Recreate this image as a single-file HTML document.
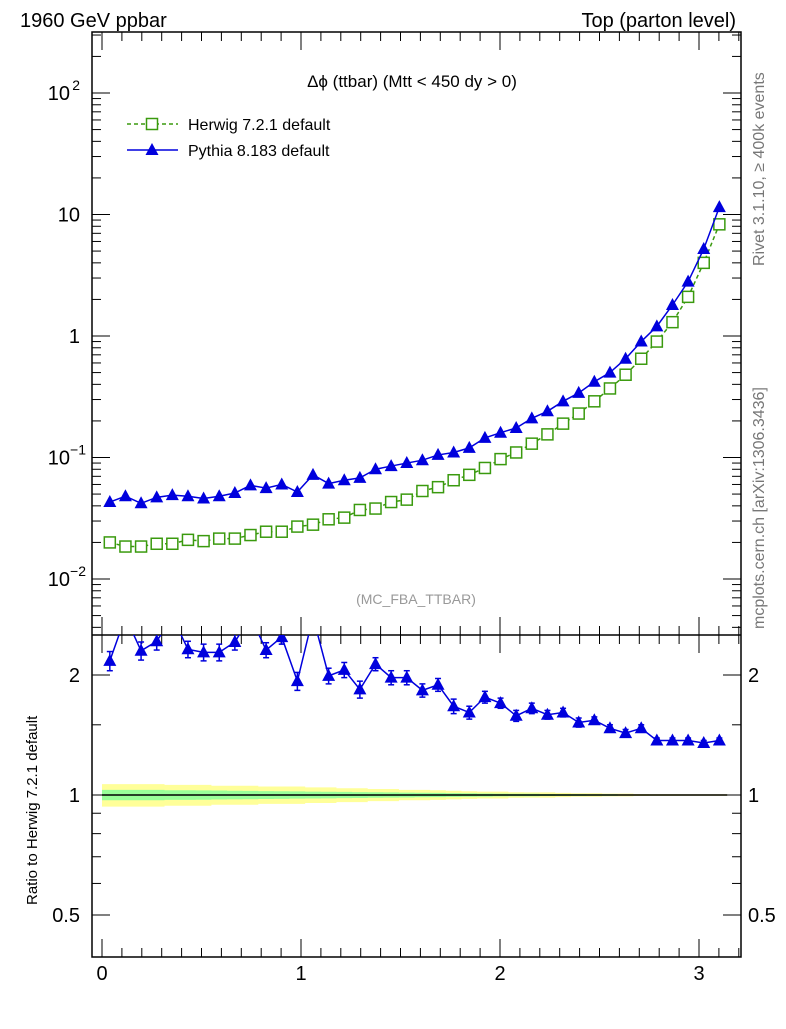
<!DOCTYPE html>
<html><head><meta charset="utf-8"><style>
body{margin:0;background:#fff}
svg text{font-family:"Liberation Sans",Arial,sans-serif}
</style></head><body>
<svg id="c" width="786" height="1024" viewBox="0 0 786 1024" xmlns="http://www.w3.org/2000/svg">
<defs>
<clipPath id="mainClip"><rect x="92" y="32" width="649" height="603"/></clipPath>
<clipPath id="ratioClip"><rect x="92" y="635" width="649" height="322"/></clipPath>
</defs>
<g id="bands" clip-path="url(#ratioClip)"></g>
<g id="frame"></g>
<g id="main" clip-path="url(#mainClip)"></g>
<g id="ratio" clip-path="url(#ratioClip)"></g>
<text x="20" y="27" font-size="20">1960 GeV ppbar</text>
<text x="736" y="27" font-size="20" text-anchor="end">Top (parton level)</text>
<text x="412" y="87" font-size="17" text-anchor="middle">Δϕ (ttbar) (Mtt &lt; 450 dy &gt; 0)</text>
<text x="416" y="604" font-size="14" fill="#999" text-anchor="middle">(MC_FBA_TTBAR)</text>
<text transform="translate(764,266) rotate(-90)" font-size="16" fill="#777">Rivet 3.1.10, ≥ 400k events</text>
<text transform="translate(764,629) rotate(-90)" font-size="16" fill="#777">mcplots.cern.ch [arXiv:1306.3436]</text>
<text transform="translate(37,905) rotate(-90)" font-size="15">Ratio to Herwig 7.2.1 default</text>
<g>
<line x1="127" y1="124" x2="178" y2="124" stroke="#3a9a0e" stroke-width="1.5" stroke-dasharray="4,3"/>
<rect x="146.5" y="118.5" width="11" height="11" fill="#fff" stroke="#3a9a0e" stroke-width="1.5"/>
<text x="188" y="130" font-size="16">Herwig 7.2.1 default</text>
<line x1="127" y1="150" x2="178" y2="150" stroke="#0000dd" stroke-width="1.5"/>
<polygon points="152,143 158.5,155 145.5,155" fill="#0000dd"/>
<text x="188" y="156" font-size="16">Pythia 8.183 default</text>
</g>
</svg>
<script>
const herwig=[0.020,0.0185,0.0185,0.0195,0.0195,0.021,0.0205,0.0215,0.0215,0.023,0.0245,0.0245,0.027,0.028,0.031,0.032,0.037,0.038,0.043,0.045,0.053,0.057,0.065,0.072,0.082,0.097,0.11,0.13,0.155,0.19,0.23,0.29,0.37,0.48,0.65,0.90,1.3,2.1,4.0,8.3];
const pythia=[0.043,0.048,0.042,0.047,0.049,0.048,0.046,0.048,0.051,0.059,0.056,0.060,0.052,0.072,0.061,0.065,0.068,0.080,0.085,0.090,0.095,0.105,0.11,0.12,0.145,0.16,0.175,0.21,0.24,0.29,0.34,0.42,0.50,0.65,0.90,1.2,1.8,2.8,5.2,11.5];
const ratio=[2.17,2.8,2.30,2.43,2.8,2.32,2.28,2.28,2.42,2.8,2.31,2.49,1.93,2.8,1.99,2.06,1.84,2.13,1.97,1.97,1.83,1.89,1.67,1.61,1.76,1.70,1.58,1.65,1.59,1.61,1.52,1.54,1.47,1.43,1.47,1.37,1.37,1.37,1.35,1.37];
const ratioErr=[0.12,0.12,0.12,0.12,0.12,0.11,0.11,0.11,0.11,0.11,0.10,0.10,0.10,0.10,0.09,0.09,0.09,0.08,0.08,0.08,0.07,0.07,0.07,0.06,0.06,0.05,0.05,0.05,0.04,0.04,0.04,0.03,0.03,0.03,0.03,0.02,0.02,0.02,0.02,0.02];
const yellowBand=[0.065,0.065,0.065,0.065,0.06,0.06,0.06,0.055,0.055,0.055,0.05,0.05,0.05,0.045,0.045,0.04,0.04,0.035,0.035,0.03,0.03,0.028,0.025,0.022,0.02,0.02,0.016,0.015,0.015,0.012,0.01,0.01,0.008,0.008,0.006,0.005,0.005,0.004,0.004,0.004];
const greenBand=[0.03,0.03,0.03,0.03,0.028,0.028,0.027,0.026,0.025,0.024,0.023,0.022,0.021,0.02,0.019,0.018,0.017,0.016,0.015,0.014,0.013,0.012,0.011,0.01,0.009,0.008,0.007,0.007,0.006,0.005,0.005,0.004,0.004,0.003,0.003,0.003,0.002,0.002,0.002,0.002];
const xTicks=[0,1,2,3];
const NS="http://www.w3.org/2000/svg";
const L=92,R=741,T=32,MB=635,RB=957;
const X=v=>102+v*199;
const Y=v=>336-121.5*Math.log10(v);
const YR=v=>795-120*Math.log2(v);
const bw=Math.PI/herwig.length;
const cx=i=>X((i+0.5)*bw);
function mk(p,tag,a){const e=document.createElementNS(NS,tag);for(const k in a)e.setAttribute(k,a[k]);p.appendChild(e);return e;}
const fr=document.getElementById('frame'),mg=document.getElementById('main'),rg=document.getElementById('ratio'),bg=document.getElementById('bands');
let up=[],dn=[],gu=[],gd=[];
herwig.forEach((h,i)=>{const x0=X(i*bw),x1=X((i+1)*bw);
up.push(x0+','+YR(1+yellowBand[i]),x1+','+YR(1+yellowBand[i]));dn.unshift(x1+','+YR(1-yellowBand[i]),x0+','+YR(1-yellowBand[i]));
gu.push(x0+','+YR(1+greenBand[i]),x1+','+YR(1+greenBand[i]));gd.unshift(x1+','+YR(1-greenBand[i]),x0+','+YR(1-greenBand[i]));});
let yb=mk(bg,'polygon',{points:up.concat(dn).join(' '),fill:'#ffff99'});


let gb=mk(bg,'polygon',{points:gu.concat(gd).join(' '),fill:'#99ff99'});


mk(bg,'line',{x1:X(0),x2:X(Math.PI),y1:YR(1),y2:YR(1),stroke:'#000','stroke-width':1.5});
mk(fr,'rect',{x:L,y:T,width:R-L,height:RB-T,fill:'none',stroke:'#000','stroke-width':1.5});
mk(fr,'line',{x1:L,x2:R,y1:MB,y2:MB,stroke:'#000','stroke-width':1.5});
for(let e=-3;e<=3;e++){for(let m=1;m<10;m++){const v=m*Math.pow(10,e);const y=Y(v);if(y<T||y>MB)continue;const len=m==1?18:9;
mk(fr,'line',{x1:L,x2:L+len,y1:y,y2:y,stroke:'#000'});mk(fr,'line',{x1:R,x2:R-len,y1:y,y2:y,stroke:'#000'});}}
const ylab=[[0.01,'10','−2'],[0.1,'10','−1'],[1,'1',''],[10,'10',''],[100,'10','2']];
ylab.forEach(([v,b,s])=>{const t=mk(fr,'text',{x:s?70:80,y:Y(v)+7,'font-size':20,'text-anchor':'end'});t.textContent=b;


if(s){const u=mk(fr,'text',{x:s.length>1?86:80,y:Y(v)-3,'font-size':14,'text-anchor':'end'});u.textContent=s;}});
[0.5,0.6,0.7,0.8,0.9,1,1.5,2].forEach(v=>{const y=YR(v);const len=(v==0.5||v==1||v==2)?18:9;
mk(fr,'line',{x1:L,x2:L+len,y1:y,y2:y,stroke:'#000'});mk(fr,'line',{x1:R,x2:R-len,y1:y,y2:y,stroke:'#000'});});
[[0.5,'0.5'],[1,'1'],[2,'2']].forEach(([v,s])=>{const a=mk(fr,'text',{x:80,y:YR(v)+7,'font-size':20,'text-anchor':'end'});a.textContent=s;


const b=mk(fr,'text',{x:748,y:YR(v)+7,'font-size':20});b.textContent=s;});
for(let k=0;k<=32;k++){const v=k*0.1;const x=X(v);if(x>R)break;const len=k%10==0?18:9;
[T,MB].forEach(y0=>{mk(fr,'line',{x1:x,x2:x,y1:y0,y2:y0+len,stroke:'#000'});});
[MB,RB].forEach(y0=>{mk(fr,'line',{x1:x,x2:x,y1:y0,y2:y0-len,stroke:'#000'});});}
xTicks.forEach(v=>{const t=mk(fr,'text',{x:X(v),y:980,'font-size':20,'text-anchor':'middle'});t.textContent=v;

});
mk(mg,'polyline',{points:herwig.map((v,i)=>cx(i)+','+Y(v)).join(' '),fill:'none',stroke:'#3a9a0e','stroke-width':1.5,'stroke-dasharray':'4,3'});
herwig.forEach((v,i)=>{const r=mk(mg,'rect',{x:cx(i)-5.5,y:Y(v)-5.5,width:11,height:11,fill:'#fff',stroke:'#3a9a0e','stroke-width':1.5});

});
function tri(g,x,y){return mk(g,'polygon',{points:`${x},${y-7} ${x+6.5},${y+5} ${x-6.5},${y+5}`,fill:'#0000dd'});}
mk(mg,'polyline',{points:pythia.map((v,i)=>cx(i)+','+Y(v)).join(' '),fill:'none',stroke:'#0000dd','stroke-width':1.5});
pythia.forEach((v,i)=>{const p=tri(mg,cx(i),Y(v));

});
mk(rg,'polyline',{points:ratio.map((v,i)=>cx(i)+','+YR(v)).join(' '),fill:'none',stroke:'#0000dd','stroke-width':1.5});
ratio.forEach((v,i)=>{const x=cx(i),y1=YR(v+ratioErr[i]),y2=YR(v-ratioErr[i]);
mk(rg,'line',{x1:x,x2:x,y1:y1,y2:y2,stroke:'#0000dd','stroke-width':1.5});
mk(rg,'line',{x1:x-3,x2:x+3,y1:y1,y2:y1,stroke:'#0000dd','stroke-width':1.5});
mk(rg,'line',{x1:x-3,x2:x+3,y1:y2,y2:y2,stroke:'#0000dd','stroke-width':1.5});
const p=tri(rg,x,YR(v));

});
</script>
</body></html>
